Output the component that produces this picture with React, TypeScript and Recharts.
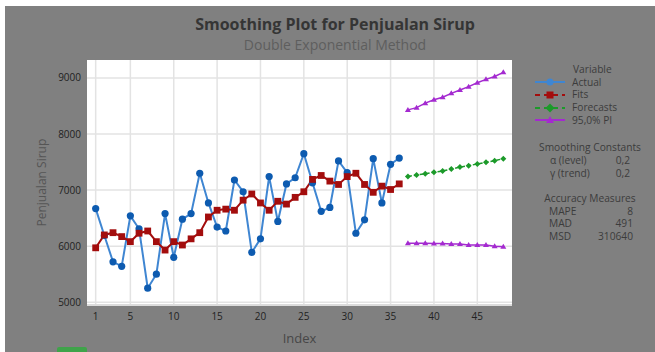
import React from 'react';
import { ComposedChart, Line, XAxis, YAxis, CartesianGrid } from 'recharts';

// observed series, index 1..36
const actual = [
  6670, 6190, 5720, 5640, 6540, 6310, 5250, 5500, 6580, 5800, 6480, 6580,
  7300, 6770, 6340, 6270, 7180, 6970, 5890, 6130, 7240, 6440, 7110, 7220,
  7650, 7130, 6620, 6690, 7520, 7310, 6230, 6470, 7560, 6770, 7460, 7570,
];
const fits = [
  5970, 6200, 6240, 6170, 6080, 6230, 6270, 6080, 5930, 6080, 6020, 6130,
  6240, 6520, 6640, 6660, 6640, 6820, 6930, 6770, 6640, 6800, 6750, 6870,
  6970, 7190, 7260, 7160, 7100, 7240, 7300, 7100, 6960, 7070, 7010, 7110,
];
// forecast horizon, index 37..48
const forecasts = [7240, 7270, 7290, 7320, 7340, 7375, 7410, 7435, 7465, 7495, 7525, 7560];
const upperPI = [8430, 8470, 8550, 8610, 8655, 8725, 8785, 8845, 8915, 8975, 9025, 9100];
const lowerPI = [6050, 6050, 6050, 6045, 6045, 6040, 6040, 6020, 6020, 6020, 6000, 5990];

const xTicks = [1, 5, 10, 15, 20, 25, 30, 35, 40, 45];
const yTicks = [5000, 6000, 7000, 8000, 9000];

const constants = [
  ['α (level)', '0,2'],
  ['γ (trend)', '0,2'],
];
const accuracy = [
  ['MAPE', '8'],
  ['MAD', '491'],
  ['MSD', '310640'],
];

const data = [
  ...actual.map((v, i) => ({ idx: i + 1, actual: v, fits: fits[i] })),
  ...forecasts.map((v, i) => ({ idx: actual.length + 1 + i, forecast: v, upper: upperPI[i], lower: lowerPI[i] })),
];

const BLUE = '#0d5bb0';
const BLUE_LINE = '#3f86d2';
const RED = '#a30d0d';
const GREEN = '#1c9a2a';
const PURPLE = '#a42ad0';
const FONT = '"Open Sans", "Noto Sans", sans-serif';

const CircleDot = (props: any) => {
  const { cx, cy } = props;
  if (cx == null || cy == null) return null;
  return <circle key={`c${cx}`} cx={cx} cy={cy} r={3.6} fill={BLUE} />;
};
const SquareDot = (props: any) => {
  const { cx, cy } = props;
  if (cx == null || cy == null) return null;
  return <rect key={`s${cx}`} x={cx - 3.4} y={cy - 3.4} width={6.8} height={6.8} fill={RED} />;
};
const DiamondDot = (props: any) => {
  const { cx, cy } = props;
  if (cx == null || cy == null) return null;
  return <path key={`d${cx}`} d={`M${cx},${cy - 3} L${cx + 3},${cy} L${cx},${cy + 3} L${cx - 3},${cy} Z`} fill={GREEN} />;
};
const TriDot = (props: any) => {
  const { cx, cy } = props;
  if (cx == null || cy == null) return null;
  return <path key={`t${cx}${cy}`} d={`M${cx},${cy - 3} L${cx + 3},${cy + 2} L${cx - 3},${cy + 2} Z`} fill={PURPLE} />;
};

const LegendIcon = ({ color, dash, marker }: { color: string; dash?: string; marker: string }) => (
  <svg width={32} height={10} style={{ marginRight: 6 }}>
    <line x1={1} y1={5} x2={31} y2={5} stroke={color} strokeWidth={2} strokeDasharray={dash} />
    {marker === 'circle' && <circle cx={16} cy={5} r={3.5} fill={color} />}
    {marker === 'square' && <rect x={12.5} y={1.5} width={7} height={7} fill={color} />}
    {marker === 'diamond' && <path d="M16,0.5 L20.5,5 L16,9.5 L11.5,5 Z" fill={color} />}
    {marker === 'triangle' && <path d="M16,1 L20,8 L12,8 Z" fill={color} />}
  </svg>
);

const legendItems = [
  { name: 'Actual', color: BLUE_LINE, marker: 'circle' },
  { name: 'Fits', color: RED, marker: 'square', dash: '5 4' },
  { name: 'Forecasts', color: GREEN, marker: 'diamond', dash: '5 4' },
  { name: '95,0% PI', color: PURPLE, marker: 'triangle' },
];

const row = (top: number): React.CSSProperties => ({ position: 'absolute', top: top - 5.5, height: 11, lineHeight: '11px', whiteSpace: 'nowrap' });

const SidePanel = () => (
  <div style={{ position: 'absolute', left: 0, top: 0, width: 655, height: 352, fontFamily: FONT, fontSize: 10.2, color: '#3c3c3c' }}>
    <div style={{ ...row(69), left: 573 }}>Variable</div>
    {legendItems.map((it, i) => (
      <div key={it.name} style={{ ...row(82 + i * 12.8), left: 534, display: 'flex', alignItems: 'center' }}>
        <LegendIcon color={it.color} dash={it.dash} marker={it.marker} />
        <span>{it.name}</span>
      </div>
    ))}
    <div style={{ ...row(147), left: 530, width: 120, textAlign: 'center' }}>Smoothing Constants</div>
    {constants.map(([k, v], i) => (
      <React.Fragment key={k}>
        <div style={{ ...row(160.5 + i * 12.8), left: 550 }}>{k}</div>
        <div style={{ ...row(160.5 + i * 12.8), left: 600, width: 30, textAlign: 'right' }}>{v}</div>
      </React.Fragment>
    ))}
    <div style={{ ...row(198.5), left: 530, width: 120, textAlign: 'center' }}>Accuracy Measures</div>
    {accuracy.map(([k, v], i) => (
      <React.Fragment key={k}>
        <div style={{ ...row(211 + i * 12.8), left: 549 }}>{k}</div>
        <div style={{ ...row(211 + i * 12.8), left: 583, width: 50, textAlign: 'right' }}>{v}</div>
      </React.Fragment>
    ))}
  </div>
);

export default function App() {
  return (
    <div style={{ position: 'absolute', left: 0, top: 0, width: 655, height: 352, background: '#ffffff', overflow: 'hidden' }}>
      <div style={{ position: 'absolute', left: 5, top: 6, width: 650, height: 346, background: '#808080' }} />
      <div style={{ position: 'absolute', left: 57, top: 347, width: 30, height: 8, background: '#3fa34a', borderRadius: 2 }} />
      <div style={{ position: 'absolute', left: 0, top: 13, width: 670, textAlign: 'center', fontFamily: FONT, fontWeight: 700, fontSize: 16, color: '#353535' }}>
        Smoothing Plot for Penjualan Sirup
      </div>
      <div style={{ position: 'absolute', left: 0, top: 35, width: 670, textAlign: 'center', fontFamily: FONT, fontSize: 14, color: '#5e5e5e' }}>
        Double Exponential Method
      </div>
      <div style={{ position: 'absolute', left: 0, top: 0 }}>
        <ComposedChart width={655} height={352} data={data} margin={{ top: 60, right: 143, bottom: 17, left: 47 }}>
          <CartesianGrid stroke="#e3e3e3" strokeWidth={1.5} fill="#ffffff" horizontalValues={yTicks} verticalValues={xTicks} />
          <XAxis
            dataKey="idx"
            type="number"
            domain={[0, 49]}
            ticks={xTicks}
            height={30}
            axisLine={{ stroke: '#dcdcdc', strokeWidth: 2 }}
            tickLine={false}
            tickSize={4}
            tickMargin={4}
            tick={{ fill: '#222', fontSize: 10, fontFamily: FONT }}
            label={{ value: 'Index', position: 'insideBottom', offset: -8, fill: '#474747', fontSize: 13, fontFamily: FONT }}
          />
          <YAxis
            type="number"
            domain={[4950, 9320]}
            ticks={yTicks}
            allowDataOverflow
            width={40}
            axisLine={false}
            tickLine={false}
            tickSize={4}
            tickMargin={2}
            tick={{ fill: '#222', fontSize: 10, fontFamily: FONT }}
            label={{ value: 'Penjualan Sirup', angle: -90, position: 'insideLeft', offset: -5, dy: 44, fill: '#555', fontSize: 12, fontFamily: FONT }}
          />
          <Line dataKey="actual" stroke={BLUE_LINE} strokeWidth={2} dot={CircleDot} isAnimationActive={false} />
          <Line dataKey="fits" stroke={RED} strokeWidth={2} dot={SquareDot} isAnimationActive={false} />
          <Line dataKey="forecast" stroke={GREEN} strokeWidth={1.5} strokeDasharray="4 2" dot={DiamondDot} isAnimationActive={false} />
          <Line dataKey="upper" stroke={PURPLE} strokeWidth={1.5} dot={TriDot} isAnimationActive={false} />
          <Line dataKey="lower" stroke={PURPLE} strokeWidth={1.5} dot={TriDot} isAnimationActive={false} />
        </ComposedChart>
      </div>
      <SidePanel />
    </div>
  );
}
